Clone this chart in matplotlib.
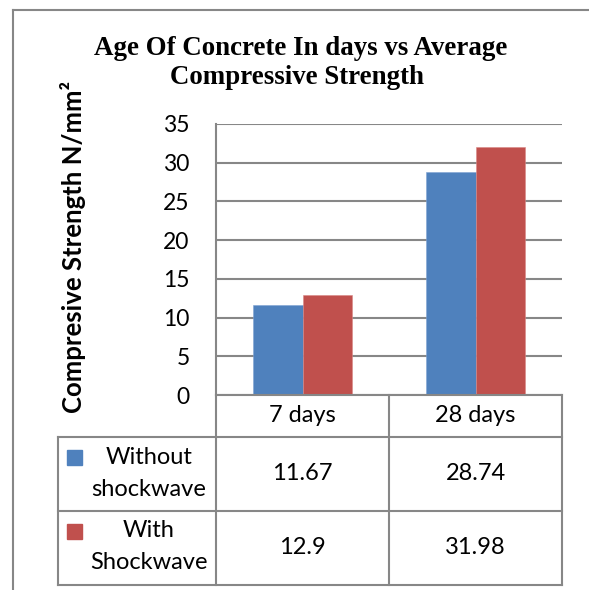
import numpy as np
import matplotlib
matplotlib.use("Agg")
import matplotlib.pyplot as plt
from matplotlib.patches import Rectangle

# chart data
ages = ["7 days", "28 days"]
without_name = ["Without", "shockwave"]
with_name = ["With", "Shockwave"]
without_shock = [11.67, 28.74]
with_shock = [12.9, 31.98]
y_ticks = [0, 5, 10, 15, 20, 25, 30, 35]

W, H = 589, 590
blue = "#4F81BD"
red = "#C0504D"
grey = "#878787"
sans = "Lato"
fs = 17

fig = plt.figure(figsize=(W / 100, H / 100), dpi=100)


def box(x0, y0, x1, y1):
    # pixel box -> figure fraction
    return [x0 / W, 1 - y1 / H, (x1 - x0) / W, (y1 - y0) / H]


# bar area
ax = fig.add_axes(box(216, 124, 562, 395))
x = np.arange(len(ages))
bw = 2 / 7
ax.bar(x - bw / 2, without_shock, bw, color=blue, edgecolor="#7fa3d4", lw=0.4, zorder=3)
ax.bar(x + bw / 2, with_shock, bw, color=red, edgecolor="#d98886", lw=0.4, zorder=3)
ax.set_xlim(-0.5, len(ages) - 0.5)
ax.set_ylim(0, 35)
ax.set_yticks(y_ticks)
ax.set_xticks([])
ax.yaxis.grid(True, color=grey, lw=1.5)
ax.set_axisbelow(True)
for s in ["top", "right", "bottom"]:
    ax.spines[s].set_visible(False)
ax.spines["left"].set_color(grey)
ax.spines["left"].set_linewidth(1.5)
ax.tick_params(axis="y", length=0, pad=19, labelsize=16.5)
for t in ax.get_yticklabels():
    t.set_fontfamily(sans)

# overlay in pixel coords for the frame and the data table
ov = fig.add_axes([0, 0, 1, 1], zorder=5)
ov.set_xlim(0, W)
ov.set_ylim(H, 0)
ov.axis("off")
ov.patch.set_alpha(0)

lw = 1.5
ov.plot([12.5, W], [9.5, 9.5], color=grey, lw=lw)
ov.plot([12.5, 12.5], [9.5, H], color=grey, lw=lw)

col_edges = [216, 389, 562]
row_edges = [395, 437, 511, 584.5]
for y in row_edges:
    ov.plot([57.5 if y > 400 else 216, 562], [y, y], color=grey, lw=lw)
for xe in col_edges:
    ov.plot([xe, xe], [395, 584.5], color=grey, lw=lw)
ov.plot([57.5, 57.5], [437, 584.5], color=grey, lw=lw)

col_mid = [(col_edges[i] + col_edges[i + 1]) / 2 for i in range(len(ages))]
for cx, name in zip(col_mid, ages):
    ov.text(cx, 415, name, ha="center", va="center", fontsize=fs, family=sans)

rows = [(without_name, without_shock, blue), (with_name, with_shock, red)]
for r, (name, vals, c) in enumerate(rows):
    top, bot = row_edges[r + 1], row_edges[r + 2]
    mid = (top + bot) / 2
    ov.add_patch(Rectangle((67, top + 13), 15, 15, color=c))
    ov.text(149, mid - 17, name[0], ha="center", va="center", fontsize=fs, family=sans)
    ov.text(149, mid + 15, name[1], ha="center", va="center", fontsize=fs, family=sans)
    for cx, v in zip(col_mid, vals):
        ov.text(cx, mid, f"{v:g}", ha="center", va="center", fontsize=fs, family=sans)

# titles
fig.text(301 / W, 1 - 55 / H, "Age Of Concrete In days vs Average", ha="center", va="baseline",
         fontsize=19.4, fontweight="bold", family="Liberation Serif")
fig.text(297 / W, 1 - 84 / H, "Compressive Strength", ha="center", va="baseline",
         fontsize=19.4, fontweight="bold", family="Liberation Serif")
fig.text(73 / W, 1 - 246.5 / H, "Compresive Strength N/mm²", rotation=90, ha="center", va="center",
         fontsize=18.5, fontweight="bold", family=sans)

fig.savefig("out.png", dpi=100)
